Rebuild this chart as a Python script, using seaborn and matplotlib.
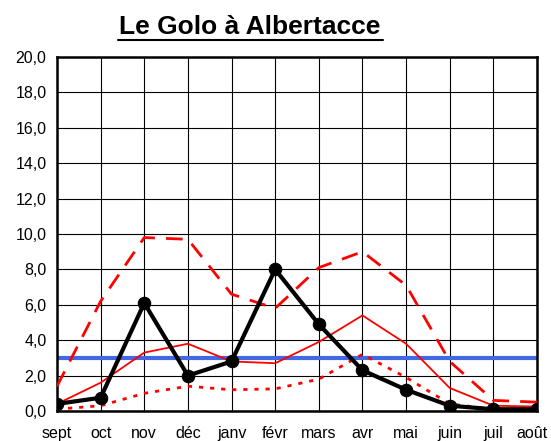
import pandas as pd
import seaborn as sns
import numpy as np
import matplotlib.pyplot as plt
from matplotlib.lines import Line2D
from matplotlib.transforms import ScaledTranslation

months = ['sept', 'oct', 'nov', 'déc', 'janv', 'févr', 'mars', 'avr', 'mai', 'juin', 'juil', 'août']
# debits mensuels (m3/s)
annee = [0.4, 0.75, 6.1, 2.0, 2.8, 8.0, 4.9, 2.3, 1.2, 0.3, 0.1, 0.1]
moyenne = [0.4, 1.6, 3.3, 3.8, 2.8, 2.7, 3.9, 5.4, 3.8, 1.3, 0.3, 0.25]
humide = [1.4, 6.2, 9.8, 9.7, 6.6, 5.8, 8.1, 9.0, 7.1, 2.8, 0.6, 0.5]
sec = [0.1, 0.3, 1.0, 1.4, 1.2, 1.25, 1.8, 3.2, 1.9, 0.4, 0.1, 0.1]
seuil = 3.0

sns.set_style('white')
plt.rcParams['font.family'] = ['Liberation Sans', 'DejaVu Sans']
plt.rcParams['text.color'] = 'black'
plt.rcParams['xtick.color'] = 'black'
plt.rcParams['ytick.color'] = 'black'

df = pd.DataFrame({'mois': months, 'annee': annee, 'moyenne': moyenne,
                   'humide': humide, 'sec': sec})
df['x'] = np.arange(len(months))

fig = plt.figure(figsize=(5.51, 4.41), dpi=100)
ax = fig.add_axes([57 / 551, 1 - 411 / 441, 480 / 551, 354 / 441])

ax.axhline(seuil, color='#4169E1', lw=3, zorder=2)
sns.lineplot(data=df, x='x', y='humide', ax=ax, color='red', lw=2,
             linestyle=(0, (6, 4)), zorder=3)
sns.lineplot(data=df, x='x', y='moyenne', ax=ax, color='red', lw=1.3, zorder=3)
sns.lineplot(data=df, x='x', y='sec', ax=ax, color='red', lw=2,
             linestyle=(0, (1.5, 2.5)), zorder=3)
sns.lineplot(data=df, x='x', y='annee', ax=ax, color='black', lw=3,
             marker='o', markersize=9, markeredgecolor='black', zorder=4)

ax.set_xlim(0, len(months) - 1)
ax.set_ylim(0, 20)
ax.set_xticks(df['x'])
ax.set_xticklabels(months)
ax.set_yticks(np.arange(0, 21, 2))
ax.set_yticklabels([f'{v:.1f}'.replace('.', ',') for v in np.arange(0, 21, 2)])
ax.set_xlabel('')
ax.set_ylabel('')
ax.grid(True, color='black', lw=0.8)
ax.set_axisbelow(True)
for s in ax.spines.values():
    s.set_color('black')
    s.set_linewidth(1.8)
ax.tick_params(axis='both', labelsize=11.5, length=4, color='black', direction='out')
ax.tick_params(axis='x', pad=7)

# last month label sits against the right edge, nudge it inside
last = ax.get_xticklabels()[-1]
last.set_transform(last.get_transform() + ScaledTranslation(-0.05, 0, fig.dpi_scale_trans))

fig.text(250 / 551, 1 - 27 / 441, 'Le Golo à Albertacce', ha='center', va='center',
         fontsize=19, fontweight='bold')
fig.add_artist(Line2D([118 / 551, 383 / 551], [1 - 40 / 441, 1 - 40 / 441],
                      color='black', lw=1.5, transform=fig.transFigure))

fig.savefig('out.png', dpi=100)
